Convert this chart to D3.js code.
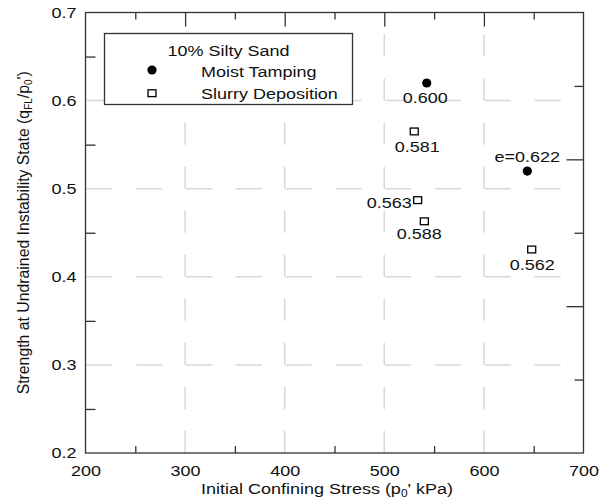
<!DOCTYPE html>
<html>
<head>
<meta charset="utf-8">
<script src="https://cdn.jsdelivr.net/npm/d3@7"></script>
<style>
  body { margin: 0; background: #fff; }
  svg text { font-family: "Liberation Sans", Arial, sans-serif; fill: #111; }
</style>
</head>
<body>
<script>
const W = 613, H = 502
const M = {top: 12.5, right: 29.5, bottom: 49, left: 85.5}
const STRETCH = 1.2

// data
const moistX = [542.6, 643.6]
const moistY = [0.620, 0.520]
const moistLabels = ["0.600", "e=0.622"]
const slurryX = [530.1, 533.5, 540.2, 648.0]
const slurryY = [0.565, 0.487, 0.463, 0.431]
const slurryLabels = ["0.581", "0.563", "0.588", "0.562"]

const xTicks = [200, 300, 400, 500, 600, 700]
const xMinor = [250, 350, 450, 550, 650]
const yTicks = [0.2, 0.3, 0.4, 0.5, 0.6, 0.7]
const yMinor = [0.25, 0.35, 0.45, 0.55, 0.65]
const yRight = [1, 2, 3, 4, 5].map(k => 0.2 + k * 0.5 / 6)

// where each point label sits relative to its marker
const labelPos = {
  "0.600": {dx: -1.5, dy: 20.5, anchor: "middle"},
  "e=0.622": {dx: 0, dy: -9, anchor: "middle"},
  "0.581": {dx: 3, dy: 21, anchor: "middle"},
  "0.563": {dx: -6, dy: 7.5, anchor: "end"},
  "0.588": {dx: -5, dy: 18, anchor: "middle"},
  "0.562": {dx: 0.5, dy: 20.5, anchor: "middle"}
}

var x = d3.scaleLinear().domain([200, 700]).range([M.left, W - M.right])
var y = d3.scaleLinear().domain([0.2, 0.7]).range([H - M.bottom, M.top])

var svg = d3.select("body").append("svg").attr("width", W).attr("height", H)

// grid
var grid = svg.append("g").attr("stroke", "#d8d8d8").attr("stroke-width", 1.5)
grid.selectAll(".vg").data(xTicks.slice(1, -1)).join("line")
    .attr("x1", d => x(d)).attr("x2", d => x(d))
    .attr("y1", y(0.2)).attr("y2", y(0.7))
    .attr("stroke-dasharray", "22,22.05")
grid.selectAll(".hg").data(yTicks.slice(1, -1)).join("line")
    .attr("x1", x(200) + 1).attr("x2", x(700))
    .attr("y1", d => y(d)).attr("y2", d => y(d))
    .attr("stroke-dasharray", "26,23.8")

var axisColor = "#333"
function tidy(g) {
  g.select(".domain").remove()
  g.selectAll("line").attr("stroke", axisColor).attr("stroke-width", 1.3)
  g.selectAll("text").attr("font-size", 15).attr("fill", "#111")
    .style("font-family", "'Liberation Sans', Arial, sans-serif")
}

var bottom = H - M.bottom, right = W - M.right
svg.append("g").attr("transform", `translate(0,${bottom})`)
   .call(d3.axisBottom(x).tickValues(xTicks).tickSize(0).tickPadding(12).tickFormat(d3.format("d"))).call(tidy)
svg.append("g").attr("transform", `translate(0,${bottom})`)
   .call(d3.axisBottom(x).tickValues(xMinor).tickSize(-7).tickFormat("")).call(tidy)
svg.append("g").attr("transform", `translate(0,${M.top})`)
   .call(d3.axisTop(x).tickValues(xMinor).tickSize(-7).tickFormat("")).call(tidy)
svg.append("g").attr("transform", `translate(0,${M.top})`)
   .call(d3.axisTop(x).tickValues(xTicks.slice(1, -1)).tickSize(-14).tickFormat("")).call(tidy)
svg.append("g").attr("transform", `translate(${M.left},0)`)
   .call(d3.axisLeft(y).tickValues(yTicks).tickSize(0).tickPadding(9).tickFormat(d3.format(".1f"))).call(tidy)
svg.append("g").attr("transform", `translate(${M.left},0)`)
   .call(d3.axisLeft(y).tickValues(yMinor).tickSize(-10).tickFormat("")).call(tidy)
svg.append("g").attr("transform", `translate(${right},0)`)
   .call(d3.axisRight(y).tickValues(yRight.filter((d, i) => i % 2 == 0)).tickSize(-9).tickFormat("")).call(tidy)
svg.append("g").attr("transform", `translate(${right},0)`)
   .call(d3.axisRight(y).tickValues(yRight.filter((d, i) => i % 2 == 1)).tickSize(-17).tickFormat("")).call(tidy)

svg.append("rect")
   .attr("x", M.left).attr("y", M.top)
   .attr("width", right - M.left).attr("height", bottom - M.top)
   .attr("fill", "none").attr("stroke", axisColor).attr("stroke-width", 1.3)

// axis titles
var xt = svg.append("text").attr("x", 327).attr("y", 494)
   .attr("text-anchor", "middle").attr("font-size", 15)
xt.append("tspan").text("Initial Confining Stress (p")
xt.append("tspan").text("0").attr("font-size", 10).attr("dy", 3)
xt.append("tspan").text("' kPa)").attr("dy", -3)

var yt = svg.append("g").attr("transform", `translate(28.5,${(M.top + bottom) / 2}) rotate(-90)`)
   .append("text").attr("text-anchor", "middle").attr("font-size", 15.8)
yt.append("tspan").text("Strength at Undrained Instability State (q")
yt.append("tspan").text("FL").attr("font-size", 10).attr("dy", 3.5)
yt.append("tspan").text("/p").attr("dy", -3.5)
yt.append("tspan").text("0").attr("font-size", 10).attr("dy", 3.5)
yt.append("tspan").text("')").attr("dy", -3.5)

// points
var moist = moistX.map((d, i) => ({x: d, y: moistY[i], label: moistLabels[i]}))
var slurry = slurryX.map((d, i) => ({x: d, y: slurryY[i], label: slurryLabels[i]}))

svg.selectAll(".moist").data(moist).join("circle")
   .attr("cx", d => x(d.x)).attr("cy", d => y(d.y)).attr("r", 4.6).attr("fill", "#000")
svg.selectAll(".slurry").data(slurry).join("rect")
   .attr("x", d => x(d.x) - 4).attr("y", d => y(d.y) - 3.4)
   .attr("width", 8).attr("height", 6.8)
   .attr("fill", "#fff").attr("stroke", "#000").attr("stroke-width", 1.3)

svg.selectAll(".plabel").data(moist.concat(slurry)).join("text")
   .attr("x", d => x(d.x) + labelPos[d.label].dx)
   .attr("y", d => y(d.y) + labelPos[d.label].dy)
   .attr("text-anchor", d => labelPos[d.label].anchor)
   .attr("font-size", 15)
   .text(d => d.label)

// legend
var lg = svg.append("g")
lg.append("rect").attr("x", 104.5).attr("y", 33.5).attr("width", 248).attr("height", 71)
  .attr("fill", "#fff").attr("stroke", axisColor).attr("stroke-width", 1.3)
lg.append("text").attr("x", 167.5).attr("y", 55.7).attr("font-size", 15).text("10% Silty Sand")
lg.append("circle").attr("cx", 152).attr("cy", 70).attr("r", 4.6).attr("fill", "#000")
lg.append("text").attr("x", 201).attr("y", 77.4).attr("font-size", 15).text("Moist Tamping")
lg.append("rect").attr("x", 148).attr("y", 89.8).attr("width", 8).attr("height", 6.8)
  .attr("fill", "#fff").attr("stroke", "#000").attr("stroke-width", 1.3)
lg.append("text").attr("x", 201).attr("y", 99).attr("font-size", 15).text("Slurry Deposition")

// the original's lettering is drawn a little wide
svg.selectAll("text").each(function() {
  var t = d3.select(this)
  if (t.node() === yt.node()) return
  var tx = +t.attr("x") || 0, ty = +t.attr("y") || 0
  t.attr("transform", `translate(${tx},${ty}) scale(${STRETCH},1) translate(${-tx},${-ty})`)
})
</script>
</body>
</html>
